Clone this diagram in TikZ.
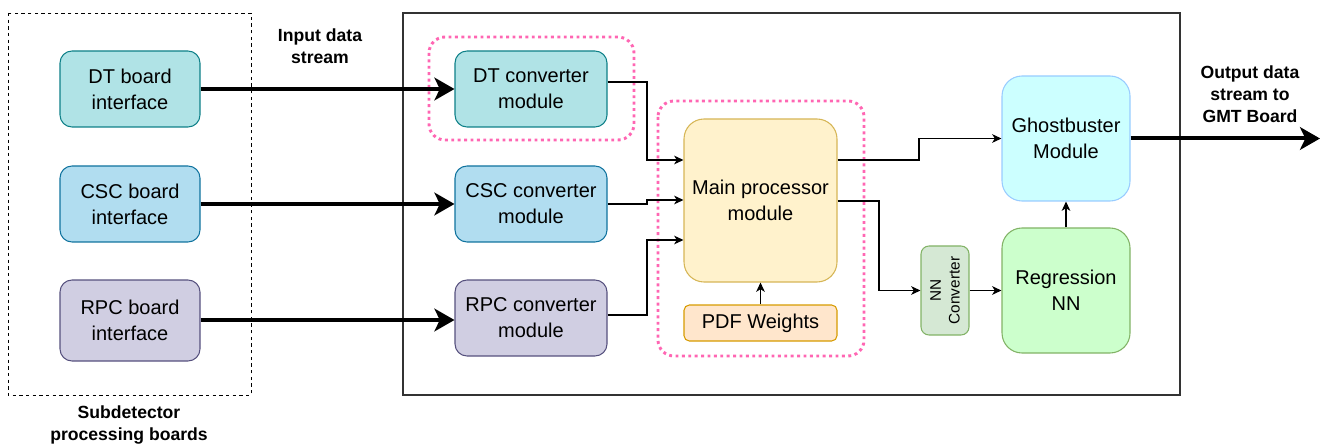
\documentclass[tikz,border=0pt]{standalone}
\usepackage{fontspec}
\setmainfont{Liberation Sans}
\usepackage{tikz}
\usetikzlibrary{arrows.meta, positioning}
\usepackage{xcolor}
\definecolor{dtfill}{HTML}{B0E3E6}
\definecolor{dtdraw}{HTML}{0E8088}
\definecolor{cscfill}{HTML}{B1DDF0}
\definecolor{cscdraw}{HTML}{10739E}
\definecolor{rpcfill}{HTML}{D0CEE2}
\definecolor{rpcdraw}{HTML}{56517E}
\definecolor{mainfill}{HTML}{FFF2CC}
\definecolor{maindraw}{HTML}{D6B656}
\definecolor{pdffill}{HTML}{FFE6CC}
\definecolor{pdfdraw}{HTML}{D79B00}
\definecolor{ghostfill}{HTML}{CCFFFF}
\definecolor{ghostdraw}{HTML}{99CCFF}
\definecolor{regfill}{HTML}{CCFFCC}
\definecolor{nnfill}{HTML}{D5E8D4}
\definecolor{nndraw}{HTML}{82B366}
\definecolor{pinkdot}{HTML}{FF66B3}

\begin{document}
\begin{tikzpicture}[x=0.75pt, y=-0.75pt,
  box/.style={rectangle, draw, rounded corners=9pt, inner sep=0pt, line width=0.8pt, align=center, font=\fontsize{15}{19.5}\selectfont},
  bigbox/.style={box, rounded corners=15pt},
  heading/.style={align=center, font=\bfseries\fontsize{13.2}{16.5}\selectfont},
  arrow/.style={-{Stealth[length=7pt, width=6.5pt, inset=2pt]}, line width=0.9pt},
  bigarrow/.style={-{Stealth[length=15pt, width=17pt, inset=4pt]}, line width=3pt},
  group/.style={draw=pinkdot, line width=2.2pt, dash pattern=on 2.2pt off 2.6pt, rounded corners=12pt}
]
  \useasboundingbox (0,0) rectangle (1323,445);

  % frames
  \draw[dash pattern=on 2.5pt off 2.5pt, line width=0.7pt] (8,13) rectangle (251,395);
  \draw[draw=black!80, line width=1.1pt] (403,13) rectangle (1180,395);
  \draw[group] (429,37) rectangle (634,140);
  \draw[group] (658,101) rectangle (864,356);

  % board interfaces
  \node[box, fill=dtfill, draw=dtdraw, minimum width=105pt, minimum height=57pt] (dtb) at (130,89) {DT board\\interface};
  \node[box, fill=cscfill, draw=cscdraw, minimum width=105pt, minimum height=57pt] (cscb) at (130,204) {CSC board\\interface};
  \node[box, fill=rpcfill, draw=rpcdraw, minimum width=105pt, minimum height=60.75pt] (rpcb) at (130,320.5) {RPC board\\interface};

  % converters
  \node[box, fill=dtfill, draw=dtdraw, minimum width=114pt, minimum height=57pt] (dtc) at (531,89) {DT converter\\module};
  \node[box, fill=cscfill, draw=cscdraw, minimum width=114pt, minimum height=57pt] (cscc) at (531,204) {CSC converter\\module};
  \node[box, fill=rpcfill, draw=rpcdraw, minimum width=114pt, minimum height=57pt] (rpcc) at (531,318) {RPC converter\\module};

  % processing
  \node[bigbox, fill=mainfill, draw=maindraw, minimum width=114.75pt, minimum height=122.25pt] (main) at (760.5,200.5) {Main processor\\module};
  \node[box, rounded corners=4pt, fill=pdffill, draw=pdfdraw, minimum width=114.75pt, minimum height=27pt] (pdf) at (760.5,323) {PDF Weights};
  \node[box, rounded corners=6pt, fill=nnfill, draw=nndraw, rotate=90, minimum width=66.75pt, minimum height=36pt, font=\fontsize{11.5}{14}\selectfont] (nnc) at (945,290.5) {NN\\Converter};
  \node[bigbox, fill=regfill, draw=nndraw, minimum width=96pt, minimum height=93.75pt] (reg) at (1066,290.5) {Regression\\NN};
  \node[bigbox, fill=ghostfill, draw=ghostdraw, minimum width=96pt, minimum height=93.75pt] (ghost) at (1066,138.5) {Ghostbuster\\Module};
  \coordinate (gmt) at (1320,138.5);

  % labels
  \node[heading] (inlbl) at (320,46) {Input data\\stream};
  \node[heading] (outlbl) at (1250,94) {Output data\\stream to\\GMT Board};
  \node[heading] (sublbl) at (129,425) {Subdetector\\processing boards};

  % data stream
  \draw[bigarrow] (dtb) -- (dtc);
  \draw[bigarrow] (cscb) -- (cscc);
  \draw[bigarrow] (rpcb.east |- 0,320) -- (rpcc.west |- 0,320);
  \draw[arrow] (dtc.east |- 0,82) -- (647,82) |- (main.west |- 0,160);
  \draw[arrow] (cscc.east) -| (647,200) -- (main.west |- 0,200);
  \draw[arrow] (rpcc.east |- 0,315) -- (647,315) |- (main.west |- 0,240);
  \draw[arrow] (pdf) -- (main);
  \draw[arrow] (main.east |- 0,160) -- (919,160) |- (ghost.west);
  \draw[arrow] (main.east |- 0,201) -- (879,201) |- (nnc.north);
  \draw[arrow, line width=1.4pt] (nnc.south) -- (reg.west);
  \draw[arrow] (reg) -- (ghost);
  \draw[bigarrow] (ghost) -- (gmt);
\end{tikzpicture}
\end{document}
